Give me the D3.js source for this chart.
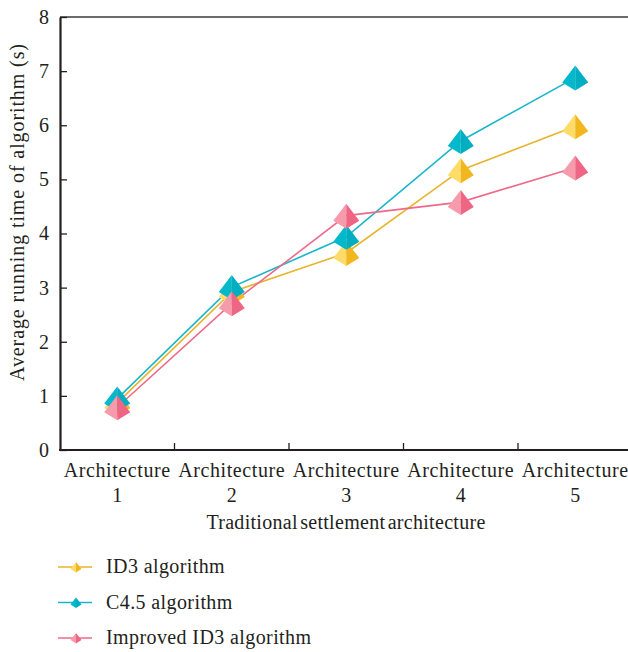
<!DOCTYPE html>
<html>
<head>
<meta charset="utf-8">
<script src="https://cdn.jsdelivr.net/npm/d3@7"></script>
<style>
  body { margin: 0; background: #fff; }
</style>
</head>
<body>
<div id="chart"></div>
<script>
// datos
var categorias = ["Architecture 1", "Architecture 2", "Architecture 3", "Architecture 4", "Architecture 5"];
var id3     = [0.87, 2.92, 3.64, 5.17, 5.98];
var c45     = [0.95, 3.01, 3.94, 5.71, 6.88];
var mejorado = [0.79, 2.71, 4.33, 4.58, 5.22];
var yTicks  = [0, 1, 2, 3, 4, 5, 6, 7, 8];

var series = [
  {nombre: "ID3 algorithm",          valores: id3,      linea: "#e8b42c", claro: "#ffdc68", oscuro: "#f2b61e"},
  {nombre: "C4.5 algorithm",         valores: c45,      linea: "#19b6c9", claro: "#02b8cb", oscuro: "#00adc1"},
  {nombre: "Improved ID3 algorithm", valores: mejorado, linea: "#ee6a8b", claro: "#f59bac", oscuro: "#ef6684"}
];

var fuente = "Liberation Serif";
var tinta = "#231f20";

var width = 628, height = 652;
var margin = {top: 17, left: 60, bottom: 450};
var banda = 114.5;

var svg = d3.select("#chart").append("svg")
    .attr("width", width)
    .attr("height", height);

var x = d3.scaleBand()
    .domain(categorias)
    .range([margin.left, margin.left + banda * categorias.length]);

var y = d3.scaleLinear()
    .domain([0, 8])
    .range([margin.bottom, margin.top]);

// borde superior
svg.append("line")
  .attr("x1", margin.left).attr("x2", width)
  .attr("y1", y(8)).attr("y2", y(8))
  .attr("stroke", "#6b6b6b").attr("stroke-width", 2);

// eje Y
var ejeY = d3.axisLeft(y).tickValues(yTicks).tickSizeInner(-7).tickSizeOuter(0).tickPadding(11);
var gy = svg.append("g")
  .attr("transform", "translate(" + margin.left + ",0)")
  .call(ejeY)
  .attr("font-family", fuente)
  .attr("font-size", 20);
gy.select(".domain").attr("stroke", tinta).attr("stroke-width", 2.2);
gy.selectAll(".tick line").attr("stroke", tinta).attr("stroke-width", 1.3);
gy.selectAll(".tick text")
  .attr("font-family", fuente)
  .attr("fill", tinta);

// eje X
svg.append("line")
  .attr("x1", margin.left - 1).attr("x2", width)
  .attr("y1", margin.bottom).attr("y2", margin.bottom)
  .attr("stroke", tinta).attr("stroke-width", 2.2);

svg.append("g").selectAll("line")
  .data(categorias.slice(1))
  .join("line")
  .attr("x1", d => x(d)).attr("x2", d => x(d))
  .attr("y1", margin.bottom).attr("y2", margin.bottom - 7)
  .attr("stroke", tinta).attr("stroke-width", 1.3);

var etiquetas = svg.append("g").selectAll("text")
  .data(categorias)
  .join("text")
  .attr("text-anchor", "middle")
  .attr("font-family", fuente)
  .attr("font-size", 20)
  .attr("fill", tinta);
etiquetas.append("tspan")
  .attr("x", d => x(d) + x.bandwidth() / 2)
  .attr("y", 477)
  .attr("letter-spacing", 0.6)
  .text(d => d.split(" ")[0]);
etiquetas.append("tspan")
  .attr("x", d => x(d) + x.bandwidth() / 2)
  .attr("y", 502)
  .text(d => d.split(" ")[1]);

svg.append("text")
  .attr("x", 346).attr("y", 529)
  .attr("text-anchor", "middle")
  .attr("font-family", fuente)
  .attr("font-size", 20)
  .attr("fill", tinta)
  .attr("letter-spacing", 0.3)
  .attr("word-spacing", -3)
  .text("Traditional settlement architecture");

svg.append("text")
  .attr("transform", "translate(24," + 212 + ") rotate(-90)")
  .attr("text-anchor", "middle")
  .attr("font-family", fuente)
  .attr("font-size", 20)
  .attr("fill", tinta)
  .attr("letter-spacing", 0.9)
  .text("Average running time of algorithm (s)");

// marcador piramide
function piramide(s) {
  var izq = "M0," + (-12 * s) + "L" + (-13 * s) + "," + (5 * s) + "L0," + (13 * s) + "Z";
  var der = "M0," + (-12 * s) + "L" + (13 * s) + "," + (5 * s) + "L0," + (13 * s) + "Z";
  return [izq, der];
}

var linea = d3.line()
  .x((d, i) => x(categorias[i]) + x.bandwidth() / 2)
  .y(d => y(d));

series.forEach(function(s) {
  svg.append("path")
    .datum(s.valores)
    .attr("fill", "none")
    .attr("stroke", s.linea)
    .attr("stroke-width", 1.6)
    .attr("d", linea);
});

series.forEach(function(s) {
  var caras = piramide(1);
  var g = svg.append("g").selectAll("g")
    .data(s.valores)
    .join("g")
    .attr("transform", (d, i) => "translate(" + (x(categorias[i]) + x.bandwidth() / 2) + "," + y(d) + ")");
  g.append("path").attr("d", caras[0]).attr("fill", s.claro);
  g.append("path").attr("d", caras[1]).attr("fill", s.oscuro);
});

// leyenda
var leyenda = svg.append("g").selectAll("g")
  .data(series)
  .join("g")
  .attr("transform", (d, i) => "translate(0," + (567 + i * 35.5) + ")");
leyenda.append("line")
  .attr("x1", 58).attr("x2", 92)
  .attr("stroke", d => d.linea).attr("stroke-width", 1.6);
leyenda.each(function(d) {
  var caras = piramide(0.42);
  var m = d3.select(this).append("g").attr("transform", "translate(76,0)");
  m.append("path").attr("d", caras[0]).attr("fill", d.claro);
  m.append("path").attr("d", caras[1]).attr("fill", d.oscuro);
});
leyenda.append("text")
  .attr("x", 106).attr("y", 6)
  .attr("font-family", fuente)
  .attr("font-size", 20)
  .attr("fill", tinta)
  .attr("letter-spacing", 0.4)
  .text(d => d.nombre);
</script>
</body>
</html>
